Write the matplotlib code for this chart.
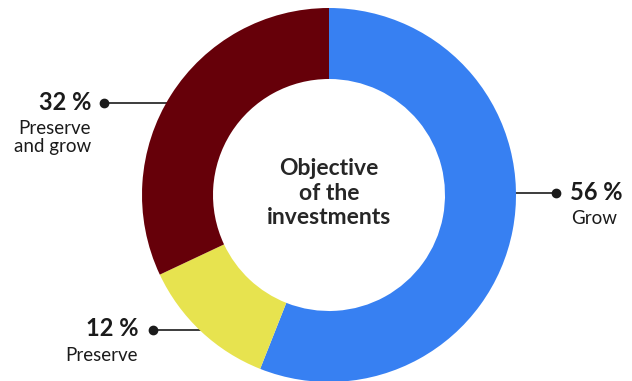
import matplotlib
matplotlib.use("Agg")
import matplotlib.pyplot as plt

# Share of investments by objective
labels = ["Grow", "Preserve", "Preserve\nand grow"]
shares = [56, 12, 32]
colors = ["#3780F2", "#E7E34F", "#660009"]

W, H = 632, 381
plt.rcParams["font.family"] = ["Lato", "DejaVu Sans"]

fig = plt.figure(figsize=(W / 100, H / 100), dpi=100)
ax = fig.add_axes([0, 0, 1, 1])

cx, cy = 329, H - 195
R, ring = 187, 71

ax.pie(shares, colors=colors, startangle=90, counterclock=False,
       center=(cx, cy), radius=R, frame=True,
       wedgeprops=dict(width=ring, linewidth=0))
ax.set_xlim(0, W)
ax.set_ylim(0, H)
ax.set_aspect("equal")
ax.axis("off")

ink = "#1b1b1b"

# leader lines: y position, dot x, end x (hidden under the ring), text anchor
leaders = {
    "Grow": dict(y=193, dot=556, end=480, ha="left", tx=570),
    "Preserve": dict(y=330, dot=153, end=230, ha="right", tx=138),
    "Preserve\nand grow": dict(y=103, dot=104, end=210, ha="right", tx=91),
}

for lab, val in zip(labels, shares):
    p = leaders[lab]
    y = H - p["y"]
    ax.plot([p["dot"], p["end"]], [y, y], color=ink, lw=1.2, zorder=0)
    ax.plot([p["dot"]], [y], "o", color=ink, ms=6, zorder=0)
    ax.text(p["tx"], y + 1, f"{val} %", ha=p["ha"], va="center",
            fontsize=17, fontweight="bold", color=ink)
    ax.text(p["tx"] + (1 if p["ha"] == "left" else 0), y - 17, lab,
            ha=p["ha"], va="top", fontsize=13.5, color=ink, linespacing=1.08)

ax.text(cx, cy + 2, "Objective\nof the\ninvestments", ha="center", va="center",
        fontsize=16.5, fontweight="bold", color="#262626", linespacing=1.2)

fig.savefig("out.png", dpi=100)
